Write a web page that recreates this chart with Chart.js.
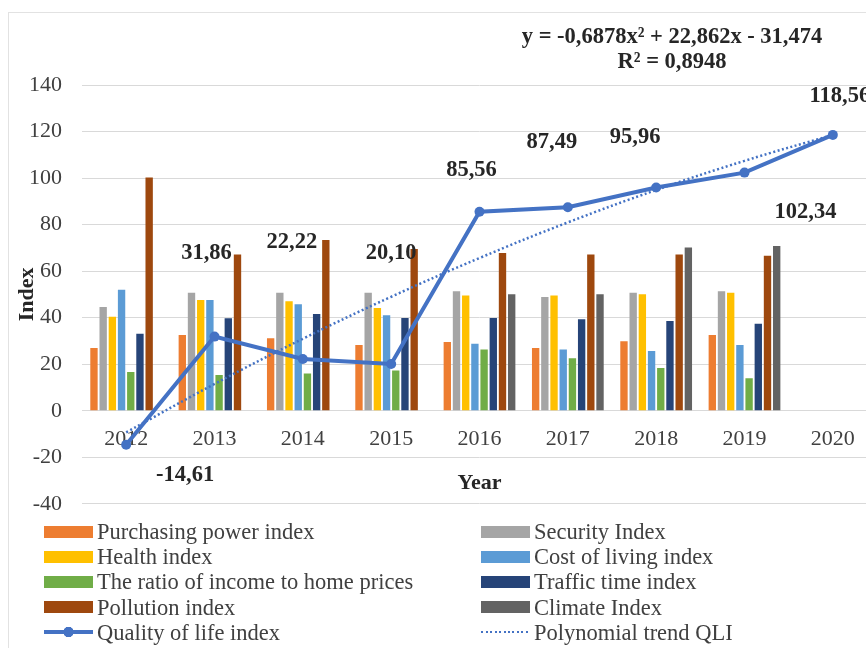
<!DOCTYPE html>
<html>
<head>
<meta charset="utf-8">
<title>Quality of life index</title>
<script src="https://cdn.jsdelivr.net/npm/chart.js@4.4.1/dist/chart.umd.min.js"></script>
<style>
  html, body { margin: 0; padding: 0; background: #fff; overflow: hidden; width: 866px; height: 648px; }
  #frame { position: absolute; left: 8px; top: 12px; width: 900px; height: 700px; border: 1px solid #e2e2e2; }
  #wrap { position: absolute; left: 0; top: 0; width: 900px; height: 537px; }
  #legend { position: absolute; left: 0; top: 519px; width: 866px; height: 130px;
            font-family: "Liberation Serif", "Times New Roman", serif; font-size: 22.5px; color: #404040; }
  .item { position: absolute; height: 25.2px; line-height: 25.2px; display: flex; align-items: center; white-space: nowrap; }
  .sw { display: inline-block; width: 49px; height: 12px; margin-right: 4px; flex: none; }
</style>
</head>
<body>
<div id="frame"></div>
<div id="wrap"><canvas id="qli-chart"></canvas></div>
<div id="legend"></div>
<script>
// valores
const years = ['2012', '2013', '2014', '2015', '2016', '2017', '2018', '2019', '2020']
const purchasingPower = [27.0, 32.5, 31.2, 28.2, 29.5, 27.0, 29.9, 32.5, null]
const securityIndex = [44.6, 50.7, 50.7, 50.7, 51.4, 48.9, 50.7, 51.4, null]
const healthIndex = [40.4, 47.6, 47.1, 44.2, 49.5, 49.5, 50.1, 50.7, null]
const costOfLiving = [52.0, 47.6, 45.8, 41.0, 28.8, 26.3, 25.7, 28.2, null]
const incomeToHomePrices = [16.7, 15.4, 16.0, 17.3, 26.3, 22.6, 18.4, 14.0, null]
const trafficTime = [33.1, 39.7, 41.6, 39.9, 39.9, 39.3, 38.6, 37.4, null]
const pollutionIndex = [100.2, 67.2, 73.4, 69.5, 67.8, 67.2, 67.2, 66.6, null]
const climateIndex = [null, null, null, null, 50.1, 50.1, 70.2, 70.8, null]
const qualityOfLife = [-14.61, 31.86, 22.22, 20.10, 85.56, 87.49, 95.96, 102.34, 118.56]
const qliTrend = [-9.30, 11.50, 30.92, 48.97, 65.64, 80.94, 94.86, 107.40, 118.57]
const yTicks = [-40, -20, 0, 20, 40, 60, 80, 100, 120, 140]

const trendEquation = 'y = -0,6878x² + 22,862x - 31,474'
const trendR2 = 'R² = 0,8948'

// deslocamento dos rótulos de dados (px) em relação a cada ponto
const labelOffsets = [[59, 29], [-8, -85], [-11, -119], [0, -112], [-8, -43], [-16, -67], [-21, -52], [61, 38], [7, -40]]

const BLUE = '#4472C4'
const TEXT = '#404040'

Chart.defaults.font.family = '"Liberation Serif", "Times New Roman", serif'
Chart.defaults.color = TEXT

function barSet(label, data, color) {
  return {
    type: 'bar',
    label: label,
    data: data,
    backgroundColor: color,
    borderWidth: 0,
    categoryPercentage: 0.833,
    barPercentage: 0.8,
    order: 2
  }
}

const qliLabels = {
  id: 'qliLabels',
  afterDatasetsDraw(chart) {
    const ctx = chart.ctx
    const meta = chart.getDatasetMeta(8)
    ctx.save()
    ctx.font = 'bold 22.5px "Liberation Serif", serif'
    ctx.fillStyle = '#262626'
    ctx.textAlign = 'center'
    ctx.textBaseline = 'alphabetic'
    meta.data.forEach(function(pt, i) {
      const txt = qualityOfLife[i].toFixed(2).replace('.', ',')
      ctx.fillText(txt, pt.x + labelOffsets[i][0], pt.y + labelOffsets[i][1] + 7.5)
    })
    // equação da linha de tendência
    ctx.fillText(trendEquation, 672, 43)
    ctx.fillText(trendR2, 672, 67.5)
    ctx.restore()
  }
}

const chart = new Chart(document.getElementById('qli-chart'), {
  data: {
    labels: years,
    datasets: [
      barSet('Purchasing power index', purchasingPower, '#ED7D31'),
      barSet('Security Index', securityIndex, '#A5A5A5'),
      barSet('Health index', healthIndex, '#FFC000'),
      barSet('Cost of living index', costOfLiving, '#5B9BD5'),
      barSet('The ratio of income to home prices', incomeToHomePrices, '#70AD47'),
      barSet('Traffic time index', trafficTime, '#264478'),
      barSet('Pollution index', pollutionIndex, '#9E480E'),
      barSet('Climate Index', climateIndex, '#636363'),
      {
        type: 'line',
        label: 'Quality of life index',
        data: qualityOfLife,
        borderColor: BLUE,
        backgroundColor: BLUE,
        borderWidth: 4,
        pointRadius: 5,
        pointBackgroundColor: BLUE,
        pointBorderWidth: 0,
        order: 0
      },
      {
        type: 'line',
        label: 'Polynomial trend QLI',
        data: qliTrend,
        borderColor: BLUE,
        borderWidth: 2.5,
        borderDash: [2, 2.5],
        pointRadius: 0,
        tension: 0.4,
        fill: false,
        order: 1
      }
    ]
  },
  options: {
    responsive: true,
    maintainAspectRatio: false,
    animation: false,
    layout: { padding: { left: 0, top: 85, right: 23, bottom: 0 } },
    plugins: {
      legend: { display: false },
      tooltip: { enabled: false }
    },
    scales: {
      x: {
        type: 'category',
        position: { y: 0 },
        grid: { display: false },
        border: { display: false },
        ticks: { font: { size: 22 }, padding: 7, maxRotation: 0, color: TEXT },
        title: { display: true, text: 'Year', font: { size: 22, weight: 'bold' }, color: '#262626', padding: { top: 11, bottom: 0 } }
      },
      y: {
        min: yTicks[0],
        max: yTicks[yTicks.length - 1],
        afterBuildTicks: function(scale) {
          scale.ticks = yTicks.map(function(v) { return { value: v } })
        },
        afterFit: function(scale) { scale.width = 82 },
        grid: { color: '#d9d9d9', lineWidth: 1, drawTicks: false },
        border: { display: false },
        ticks: { font: { size: 22 }, padding: 20, color: TEXT },
        title: { display: true, text: 'Index', font: { size: 22, weight: 'bold' }, color: '#262626', padding: { top: 14, bottom: 0 } }
      }
    }
  },
  plugins: [qliLabels]
})

// legenda em HTML, duas colunas como no original
function buildLegend(chart) {
  const box = document.getElementById('legend')
  chart.data.datasets.forEach(function(ds, i) {
    const item = document.createElement('div')
    item.className = 'item'
    item.style.left = (i % 2 === 0 ? 44 : 481) + 'px'
    item.style.top = (Math.floor(i / 2) * 25.2) + 'px'
    const sw = document.createElement('span')
    sw.className = 'sw'
    if (ds.type === 'line' && ds.borderDash) {
      sw.style.background = 'repeating-linear-gradient(to right, ' + BLUE + ' 0 2px, transparent 2px 4.5px) center / 100% 2px no-repeat'
    } else if (ds.type === 'line') {
      sw.style.background = 'radial-gradient(circle, ' + BLUE + ' 0 5px, transparent 5.5px), linear-gradient(' + BLUE + ', ' + BLUE + ') center / 100% 4px no-repeat'
    } else {
      sw.style.background = ds.backgroundColor
    }
    item.appendChild(sw)
    item.appendChild(document.createTextNode(ds.label))
    box.appendChild(item)
  })
}

buildLegend(chart)
</script>
</body>
</html>
